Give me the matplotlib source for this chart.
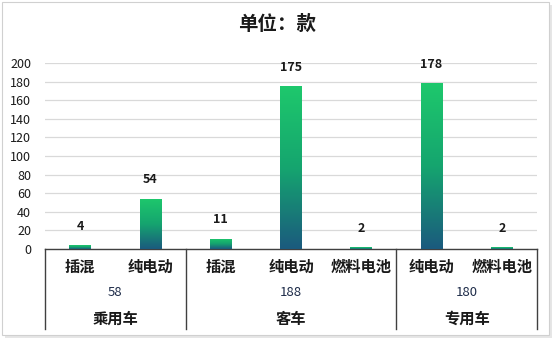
import matplotlib.pyplot as plt
import numpy as np
from matplotlib.patches import Rectangle
from matplotlib.colors import LinearSegmentedColormap

plt.rcParams['font.family'] = ['Noto Sans CJK SC', 'DejaVu Sans']

# data
groups = ['乘用车', '客车', '专用车']
group_totals = [58, 188, 180]
types = ['插混', '纯电动', '插混', '纯电动', '燃料电池', '纯电动', '燃料电池']
counts = [4, 54, 11, 175, 2, 178, 2]
group_sizes = [2, 3, 2]

W, H = 555, 342
fig = plt.figure(figsize=(W / 100, H / 100), dpi=100)

# frame with light shadow
fig.patches.append(Rectangle((5 / W, 1 - 338 / H), 547 / W, 333 / H, transform=fig.transFigure,
                             facecolor='#e6e6e6', edgecolor='none', zorder=-2))
fig.patches.append(Rectangle((2 / W, 1 - 335 / H), 547 / W, 333 / H, transform=fig.transFigure,
                             facecolor='white', edgecolor='#d0d0d0', linewidth=0.8, zorder=-1))

left, right, top, zero = 45, 537, 63, 249
ax = fig.add_axes([left / W, 1 - zero / H, (right - left) / W, (zero - top) / H])
ax.set_facecolor('none')

n = len(counts)
x = np.arange(n)
ax.set_xlim(-0.5, n - 0.5)
ax.set_ylim(0, 200)
ax.set_yticks(range(0, 201, 20))
ax.tick_params(axis='y', length=0, labelsize=9, pad=10, labelcolor='#1a1a1a')
ax.tick_params(axis='x', length=0, labelbottom=False)
ax.grid(axis='y', color='#d9d9d9', linewidth=0.9)
ax.set_axisbelow(True)
for s in ['left', 'right', 'top']:
    ax.spines[s].set_visible(False)
ax.spines['bottom'].set_color('#404040')
ax.spines['bottom'].set_linewidth(1.0)

cmap = LinearSegmentedColormap.from_list('g', ['#1b5a7e', '#15a56f', '#1ec86c'])
grad = np.linspace(0, 1, 256).reshape(-1, 1)
bars = ax.bar(x, counts, width=0.31, facecolor='none', edgecolor='none', zorder=3)
for b, v in zip(bars, counts):
    x0 = b.get_x()
    im = ax.imshow(grad, cmap=cmap, origin='lower', aspect='auto',
                   extent=(x0, x0 + b.get_width(), 0, max(v, 0.5)), zorder=3)
    im.set_clip_path(b)
    ax.annotate(str(v), (b.get_x() + b.get_width() / 2, v), xytext=(0, 9),
                textcoords='offset points', ha='center', va='bottom',
                fontsize=9, fontweight='bold', color='#1a1a1a')
ax.set_xlim(-0.5, n - 0.5)
ax.set_ylim(0, 200)

# multi-level category axis
trans = ax.get_xaxis_transform()
def fy(py):
    return (zero - py) / (zero - top)

for xi, t in zip(x, types):
    ax.text(xi, fy(267), t, transform=trans, ha='center', va='center',
            fontsize=11, fontweight='bold', color='#1a1a1a', clip_on=False)

edges = np.concatenate([[0], np.cumsum(group_sizes)]) - 0.5
for i, (g, tot) in enumerate(zip(groups, group_totals)):
    mid = (edges[i] + edges[i + 1]) / 2
    ax.text(mid, fy(292), str(tot), transform=trans, ha='center', va='center',
            fontsize=9.5, color='#1f2d4a', clip_on=False)
    ax.text(mid, fy(319), g, transform=trans, ha='center', va='center',
            fontsize=11, fontweight='bold', color='#1a1a1a', clip_on=False)
for e in edges:
    ax.plot([e, e], [0, fy(329)], transform=trans, color='#404040',
            linewidth=1.0, clip_on=False)

fig.text(0.5, 1 - 24 / H, '单位：款', ha='center', va='center',
         fontsize=14, fontweight='bold', color='#1a1a1a')

fig.savefig('out.png', dpi=100)
